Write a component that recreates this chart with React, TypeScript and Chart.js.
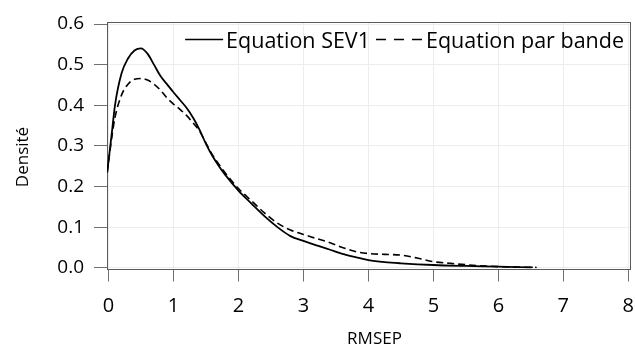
import React, { useEffect, useRef } from "react";
import { Chart, registerables } from "chart.js";

Chart.register(...registerables);

const seriesLabels = ["Equation SEV1", "Equation par bande"];
const xTitle = "RMSEP";
const yTitle = "Densité";

const sevX = [-0.02, 0.05, 0.1, 0.2, 0.3, 0.4, 0.5, 0.6, 0.7, 0.8, 0.9, 1.0, 1.1, 1.2, 1.3, 1.4, 1.5, 1.6, 1.7, 1.8, 2.0, 2.2, 2.4, 2.6, 2.8, 3.0, 3.2, 3.4, 3.6, 3.8, 4.0, 4.25, 4.5, 5.0, 5.5, 6.0, 6.3, 6.53];
const sevY = [0.235, 0.33, 0.4, 0.478, 0.515, 0.535, 0.54, 0.527, 0.5, 0.472, 0.452, 0.432, 0.413, 0.394, 0.37, 0.34, 0.305, 0.275, 0.25, 0.228, 0.19, 0.158, 0.127, 0.1, 0.078, 0.066, 0.055, 0.045, 0.034, 0.026, 0.019, 0.014, 0.011, 0.0068, 0.0045, 0.0028, 0.0015, 0.0008];

const bandeX = [-0.02, 0.05, 0.1, 0.2, 0.3, 0.4, 0.5, 0.6, 0.7, 0.8, 0.9, 1.0, 1.1, 1.2, 1.3, 1.4, 1.5, 1.6, 1.8, 2.0, 2.2, 2.4, 2.6, 2.8, 3.0, 3.2, 3.4, 3.6, 3.8, 4.0, 4.25, 4.5, 4.75, 5.0, 5.25, 5.5, 6.0, 6.3, 6.59];
const bandeY = [0.235, 0.32, 0.37, 0.425, 0.452, 0.464, 0.466, 0.462, 0.452, 0.437, 0.418, 0.403, 0.39, 0.375, 0.357, 0.337, 0.307, 0.278, 0.233, 0.195, 0.165, 0.135, 0.11, 0.093, 0.082, 0.072, 0.062, 0.05, 0.04, 0.035, 0.033, 0.031, 0.024, 0.015, 0.011, 0.0075, 0.0028, 0.0015, 0.0008];

const xTicks = [0, 1, 2, 3, 4, 5, 6, 7, 8];
const yTicks = [0, 0.1, 0.2, 0.3, 0.4, 0.5, 0.6];

const FONT = "'Open Sans', sans-serif";

const framePlugin = {
  id: "frame",
  beforeDatasetsDraw(chart: any) {
    const { ctx, chartArea } = chart;
    ctx.save();
    ctx.strokeStyle = "#5a5a5a";
    ctx.lineWidth = 1;
    ctx.strokeRect(
      Math.round(chartArea.left) + 0.5,
      Math.round(chartArea.top) + 0.5,
      Math.round(chartArea.right - chartArea.left),
      Math.round(chartArea.bottom - chartArea.top)
    );
    ctx.restore();
  },
};

const titlesPlugin = {
  id: "titles",
  afterDraw(chart: any) {
    const { ctx, chartArea } = chart;
    ctx.save();
    ctx.fillStyle = "#000";
    ctx.textAlign = "center";
    ctx.textBaseline = "alphabetic";
    ctx.font = `17px ${FONT}`;
    ctx.fillText(xTitle, (chartArea.left + chartArea.right) / 2 + 6, 344);
    ctx.translate(28, 157);
    ctx.rotate(-Math.PI / 2);
    ctx.fillText(yTitle, 0, 0);
    ctx.restore();
  },
};

const keyPlugin = {
  id: "key",
  afterDatasetsDraw(chart: any) {
    const { ctx, chartArea } = chart;
    ctx.save();
    ctx.font = `21.5px ${FONT}`;
    ctx.fillStyle = "#000";
    ctx.textBaseline = "alphabetic";
    ctx.textAlign = "left";
    const baseY = 48;
    const lineY = 39.5;
    const w1 = ctx.measureText(seriesLabels[0]).width;
    const w2 = ctx.measureText(seriesLabels[1]).width;
    const end2 = chartArea.right - 6;
    const start2 = end2 - w2;
    const dashEnd = start2 - 4;
    const dashStart = dashEnd - 46;
    const end1 = dashStart - 6;
    const start1 = end1 - w1;
    const solidEnd = start1 - 3;
    const solidStart = solidEnd - 38;
    ctx.fillText(seriesLabels[0], start1, baseY);
    ctx.fillText(seriesLabels[1], start2, baseY);
    ctx.strokeStyle = "#000";
    ctx.lineWidth = 1.6;
    ctx.beginPath();
    ctx.moveTo(solidStart, lineY);
    ctx.lineTo(solidEnd, lineY);
    ctx.stroke();
    ctx.setLineDash([10, 8]);
    ctx.beginPath();
    ctx.moveTo(dashStart, lineY);
    ctx.lineTo(dashEnd, lineY);
    ctx.stroke();
    ctx.restore();
  },
};

export default function App() {
  const ref = useRef<HTMLCanvasElement | null>(null);

  useEffect(() => {
    if (!ref.current) return;
    const chart = new Chart(ref.current, {
      type: "line",
      data: {
        datasets: [
          {
            label: seriesLabels[0],
            data: sevX.map((x, i) => ({ x, y: sevY[i] })),
            borderColor: "#000",
            borderWidth: 1.8,
            pointRadius: 0,
            cubicInterpolationMode: "monotone",
            fill: false,
          },
          {
            label: seriesLabels[1],
            data: bandeX.map((x, i) => ({ x, y: bandeY[i] })),
            borderColor: "#000",
            borderWidth: 1.6,
            borderDash: [7, 4],
            pointRadius: 0,
            cubicInterpolationMode: "monotone",
            fill: false,
          },
        ],
      },
      options: {
        responsive: false,
        animation: false,
        devicePixelRatio: 1,
        layout: { padding: { top: 22, right: 5, left: 0, bottom: 0 } },
        plugins: {
          legend: { display: false },
          tooltip: { enabled: false },
        },
        scales: {
          x: {
            type: "linear",
            min: -0.023,
            max: 8.026,
            afterBuildTicks: (scale: any) => {
              scale.ticks = xTicks.map((v) => ({ value: v }));
            },
            afterFit: (scale: any) => {
              scale.height = 76.5;
              scale.paddingLeft = 0;
              scale.paddingRight = 0;
            },
            grid: {
              color: "#ececec",
              tickColor: "#707070",
              tickLength: 13,
              lineWidth: 1,
            },
            border: { display: false },
            ticks: {
              color: "#000",
              font: { family: FONT, size: 20 },
              padding: 13,
              maxRotation: 0,
              callback: (v: any) => String(v),
            },
            title: { display: false },
          },
          y: {
            type: "linear",
            min: -0.0018,
            max: 0.605,
            afterBuildTicks: (scale: any) => {
              scale.ticks = yTicks.map((v) => ({ value: v }));
            },
            afterFit: (scale: any) => {
              scale.width = 107;
              scale.paddingTop = 0;
              scale.paddingBottom = 0;
            },
            grid: {
              color: "#ececec",
              tickColor: "#707070",
              tickLength: 13,
              lineWidth: 1,
            },
            border: { display: false },
            ticks: {
              color: "#000",
              font: { family: FONT, size: 19 },
              padding: 10,
              callback: (v: any) => Number(v).toFixed(1),
            },
            title: { display: false },
          },
        },
      },
      plugins: [framePlugin, keyPlugin, titlesPlugin],
    } as any);
    return () => chart.destroy();
  }, []);

  return (
    <div style={{ position: "fixed", left: 0, top: 0, width: 635, height: 345, background: "#fff" }}>
      <canvas ref={ref} width={635} height={345} />
    </div>
  );
}
